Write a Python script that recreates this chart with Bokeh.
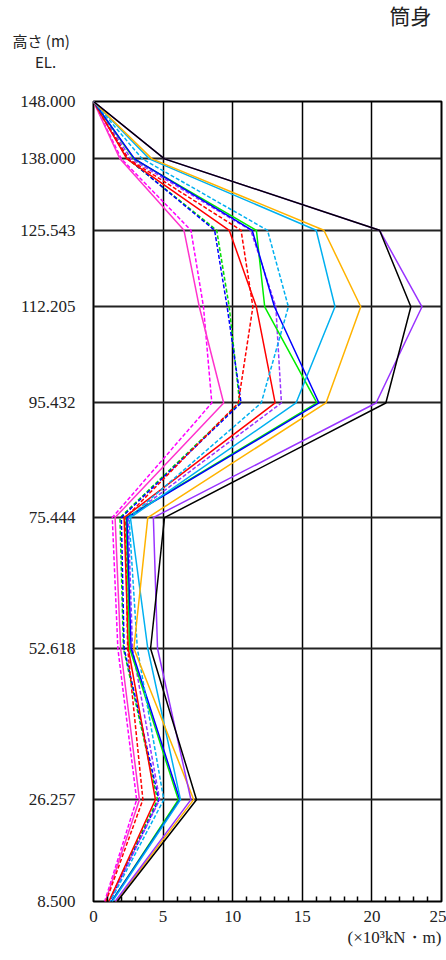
from bokeh.plotting import figure
from bokeh.models import FixedTicker, NumeralTickFormatter, Title, Range1d
from bokeh.embed import file_html
from bokeh.resources import INLINE

levels = [148.000, 138.000, 125.543, 112.205, 95.432, 75.444, 52.618, 26.257, 8.500]
x_ticks = [0, 5, 10, 15, 20, 25]

magenta_dash = [0, 2.0, 7.0, 7.9, 8.5, 1.35, 1.75, 3.1, 0.8]
pink_solid = [0, 1.9, 6.5, 7.6, 9.35, 1.55, 1.95, 3.3, 0.85]
green_dash = [0, 2.45, 8.85, 9.75, 10.5, 1.9, 2.15, 4.6, 1.1]
blue_dash = [0, 2.5, 8.7, 9.6, 10.6, 2.0, 2.2, 4.7, 1.15]
red_dash = [0, 2.5, 10.6, 11.45, 10.4, 2.3, 2.45, 3.55, 0.9]
purple_dash = [0, 2.7, 11.3, 13.1, 13.5, 2.5, 2.8, 4.75, 1.15]
red_solid = [0, 2.4, 9.75, 11.7, 13.05, 2.2, 2.5, 4.45, 1.1]
green_solid = [0, 2.9, 11.7, 12.3, 16.05, 2.35, 2.6, 6.1, 1.3]
blue_solid = [0, 2.95, 11.4, 13.0, 16.2, 2.4, 2.7, 6.2, 1.3]
lblue_dash = [0, 3.5, 12.5, 14.0, 12.05, 2.55, 3.15, 5.05, 1.2]
lblue_solid = [0, 4.0, 16.0, 17.35, 14.55, 2.65, 3.9, 6.25, 1.35]
orange_solid = [0, 4.2, 16.55, 19.2, 16.7, 3.9, 2.9, 7.2, 1.6]
purple_solid = [0, 5.1, 20.55, 23.6, 20.3, 4.3, 4.6, 7.0, 1.55]
black_solid = [0, 5.1, 20.55, 22.8, 21.0, 5.1, 4.1, 7.4, 1.7]

series = [
    (magenta_dash, "#ff00ff", "4 2"),
    (pink_solid, "#ff33cc", "solid"),
    (green_dash, "#00dd00", "4 2"),
    (blue_dash, "#0000ff", "4 2"),
    (red_dash, "#ff0000", "4 2"),
    (purple_dash, "#9933ff", "4 2"),
    (red_solid, "#ff0000", "solid"),
    (green_solid, "#00ee00", "solid"),
    (blue_solid, "#0000ff", "solid"),
    (lblue_dash, "#00b0f0", "4 2"),
    (lblue_solid, "#00b0f0", "solid"),
    (orange_solid, "#ffb300", "solid"),
    (purple_solid, "#9933ff", "solid"),
    (black_solid, "#000000", "solid"),
]

FL, FT, FW, FH = 93, 101, 348, 800
p = figure(output_backend="svg", toolbar_location=None,
           x_range=Range1d(0, 25), y_range=Range1d(8.5, 148.0),
           min_border_left=FL, min_border_right=5,
           min_border_top=FT, min_border_bottom=51)
p.frame_width = FW
p.frame_height = FH

for vals, col, dash in series:
    p.line(vals, levels, line_color=col, line_width=1.5, line_dash=dash)

p.outline_line_color = "black"
p.outline_line_width = 2
p.background_fill_color = "white"
p.border_fill_color = "white"

p.xgrid.ticker = FixedTicker(ticks=x_ticks)
p.ygrid.ticker = FixedTicker(ticks=levels)
p.xgrid.grid_line_color = "black"
p.xgrid.grid_line_width = 1.5
p.ygrid.grid_line_color = "#222222"
p.ygrid.grid_line_width = 1.8

xa = p.xaxis[0]
xa.ticker = FixedTicker(ticks=x_ticks, minor_ticks=[i for i in range(26) if i % 5])
xa.axis_line_color = None
xa.major_tick_out = 0
xa.major_tick_in = 0
xa.minor_tick_in = 5
xa.minor_tick_out = 0
xa.minor_tick_line_color = "black"
xa.minor_tick_line_width = 1.5
xa.major_label_text_font = "Liberation Serif"
xa.major_label_text_font_size = "17px"
xa.major_label_text_color = "#222222"
xa.major_label_standoff = 9

ya = p.yaxis[0]
ya.ticker = FixedTicker(ticks=levels)
ya.formatter = NumeralTickFormatter(format="0.000")
ya.axis_line_color = None
ya.major_tick_out = 0
ya.major_tick_in = 0
ya.minor_tick_out = 0
ya.minor_tick_in = 0
ya.major_label_text_font = "Liberation Serif"
ya.major_label_text_font_size = "17px"
ya.major_label_text_color = "#222222"
ya.major_label_standoff = 18

# outer title (top-right): panel name
p.title.text = "筒身"
p.title.align = "right"
p.title.offset = 10
p.title.standoff = -54
p.title.text_font = "Noto Sans CJK JP"
p.title.text_font_size = "21px"
p.title.text_font_style = "normal"
p.title.text_color = "#222222"

# inner title (top-left): vertical unit label
p.add_layout(Title(text="高さ (m)\n\u3000\u2002EL.", align="left", offset=-81, standoff=55,
                   vertical_align="top",
                   text_font="Noto Sans CJK JP", text_font_size="15px",
                   text_font_style="normal", text_color="#222222"), "above")

p.add_layout(Title(text="(×10³kN・m)", align="right", offset=0, standoff=2,
                   text_font="Liberation Serif", text_font_size="17px",
                   text_font_style="normal", text_color="#222222"), "below")

open("out.html", "w").write(file_html(p, INLINE))
